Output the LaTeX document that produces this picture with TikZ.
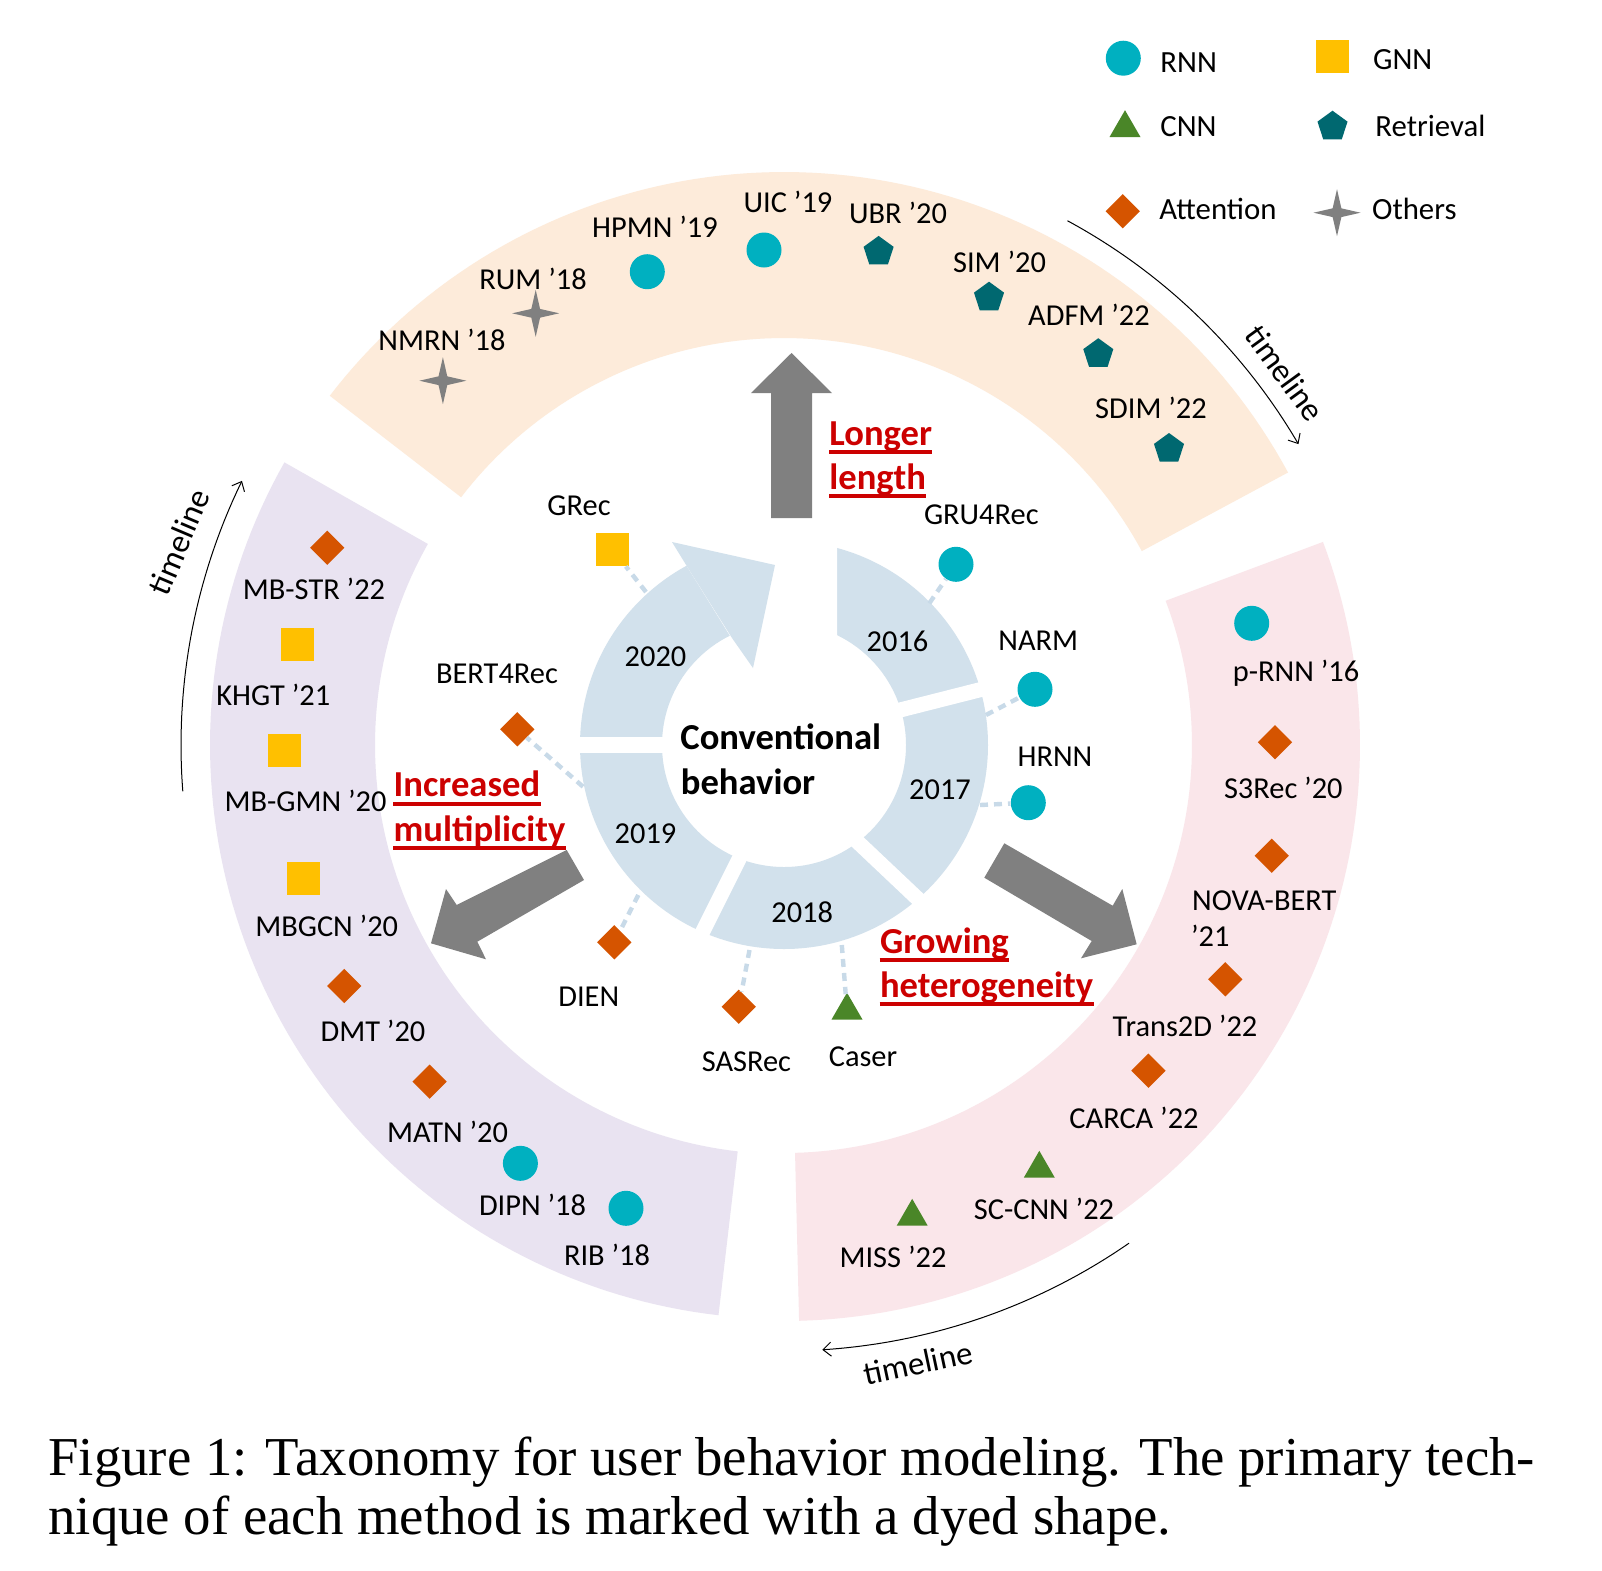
\documentclass[tikz,border=0pt]{standalone}
\usepackage{fontspec}
\setmainfont{Carlito}
\newfontfamily\capfont{Liberation Serif}
\usetikzlibrary{shapes.geometric,arrows.meta}
\definecolor{ringblue}{RGB}{210,225,236}
\definecolor{connblue}{RGB}{200,218,232}
\definecolor{bandorange}{RGB}{253,235,218}
\definecolor{bandpurple}{RGB}{233,227,241}
\definecolor{bandpink}{RGB}{250,230,234}
\definecolor{rnncol}{RGB}{0,176,192}
\definecolor{gnncol}{RGB}{255,192,0}
\definecolor{cnncol}{RGB}{74,134,40}
\definecolor{retcol}{RGB}{0,104,112}
\definecolor{attcol}{RGB}{213,84,0}
\definecolor{othcol}{RGB}{128,128,128}
\definecolor{arrowgray}{RGB}{128,128,128}
\definecolor{redtxt}{RGB}{204,0,0}
\tikzset{
 rnn/.style={circle, fill=rnncol, minimum size=17.5pt, inner sep=0pt},
 gnn/.style={rectangle, fill=gnncol, minimum size=16.5pt, inner sep=0pt},
 att/.style={diamond, fill=attcol, minimum width=17.3pt, minimum height=17.3pt, inner sep=0pt},
 cnnm/.style={regular polygon, regular polygon sides=3, fill=cnncol, minimum size=17.9pt, inner sep=0pt},
 ret/.style={regular polygon, regular polygon sides=5, fill=retcol, minimum size=15.8pt, inner sep=0pt},
 oth/.style={star, star points=4, star point ratio=3.8, fill=othcol, minimum size=23.5pt, inner sep=0pt},
 lbl/.style={font=\fontsize{15.2pt}{18pt}\selectfont, inner sep=0pt, anchor=base},
 lblw/.style={font=\fontsize{15.2pt}{18pt}\selectfont, inner sep=0pt, anchor=base west},
 lgd/.style={font=\fontsize{15.4pt}{18pt}\selectfont, inner sep=0pt, anchor=base west},
 redlbl/.style={font=\fontsize{18.3pt}{21pt}\selectfont\bfseries, text=redtxt, inner sep=0pt, anchor=base west},
 convlbl/.style={font=\fontsize{18.3pt}{21pt}\selectfont\bfseries, inner sep=0pt, anchor=base west},
 uline/.style={draw=redtxt, line width=2pt},
 conn/.style={draw=connblue, line width=2.2pt, dash pattern=on 4pt off 3pt},
 tlarc/.style={draw=black, line width=0.5pt, -{Straight Barb[length=4pt,width=7pt]}},
 tltext/.style={font=\fontsize{16.5pt}{18pt}\selectfont, inner sep=0pt},
 gap/.style={draw=white, line width=7.5pt},
 caption/.style={font=\capfont\fontsize{27.4pt}{33pt}\selectfont, inner sep=0pt, anchor=base west}
}
\begin{document}
\begin{tikzpicture}[x=0.5pt,y=-0.5pt]
\useasboundingbox (0,0) rectangle (1602,1570);
\fill[white] (0,0) rectangle (1602,1570);

% outer bands
\fill[bandorange] plot[domain=0:1,samples=90] ({784+573*cos(28.4+114.1*\x)},{745-573*sin(28.4+114.1*\x)})
  -- plot[domain=0:1,samples=90] ({784+407*cos(142.5-114.1*\x)},{745-407*sin(142.5-114.1*\x)}) -- cycle;
\fill[bandpurple] plot[domain=0:1,samples=90] ({784+574*cos(150.5+113*\x)},{745-574*sin(150.5+113*\x)})
  -- plot[domain=0:1,samples=90] ({784+409*cos(263.5-113*\x)},{745-409*sin(263.5-113*\x)}) -- cycle;
\fill[bandpink] plot[domain=0:1,samples=90] ({784+576*cos(-88.5+109.2*\x)},{745-576*sin(-88.5+109.2*\x)})
  -- plot[domain=0:1,samples=90] ({784+408*cos(20.7-109.2*\x)},{745-408*sin(20.7-109.2*\x)}) -- cycle;

% timeline arcs
\draw[tlarc] plot[domain=0:1,samples=60] ({784+596*cos(61.6-31.3*\x)},{745-596*sin(61.6-31.3*\x)});
\draw[tlarc] plot[domain=0:1,samples=60] ({784+603*cos(184.4-30.4*\x)},{745-603*sin(184.4-30.4*\x)});
\draw[tlarc] plot[domain=0:1,samples=60] ({784+606*cos(-55.3-31.1*\x)},{745-606*sin(-55.3-31.1*\x)});
\node[tltext, rotate=-54] (tlA) at (1285,373) {timeline};
\node[tltext, rotate=67] (tlB) at (179,542) {timeline};
\node[tltext, rotate=12] (tlC) at (918,1363) {timeline};

% year ring
\fill[ringblue, even odd rule] (784,745) circle[radius=204] (784,745) circle[radius=122];
\draw[white, line width=8pt] (570,745) -- (672,745);
\draw[gap] (885.5,713.7) -- (993.5,686.3);
\draw[gap] (850,834.7) -- (931,911.3);
\draw[gap] (743.7,849.6) -- (694.8,947.4);
\fill[white] (675,547) -- (745,660) -- (837,660) -- (837,525) -- (675,525) -- cycle;
\fill[ringblue] (672,542) -- (775,565) -- (753,668) -- (732,638) -- (688,568) -- cycle;

% gray arrows
\fill[arrowgray] (771,518) -- (771,393) -- (751,393) -- (791.5,353) -- (832,393) -- (812,393) -- (812,518) -- cycle;
\fill[arrowgray] (566.7,850) -- (456.7,905) -- (446,889) -- (431,943.3) -- (486,959.3) -- (477.3,941.7) -- (584,880) -- cycle;
\fill[arrowgray] (1004.3,843.3) -- (1112.7,905.7) -- (1122.3,889) -- (1136.7,944.3) -- (1081,958.3) -- (1091.7,941) -- (984.3,877.7) -- cycle;

% year labels and center
\node[lbl] (y2020) at (655.5,666.7) {2020};
\node[lbl] (y2016) at (897.5,651.7) {2016};
\node[lbl] (y2017) at (940,799.3) {2017};
\node[lbl] (y2019) at (645.5,843.3) {2019};
\node[lbl] (y2018) at (802.2,922.3) {2018};
\node[convlbl] (conv1) at (680,749.3) {Conventional};
\node[convlbl] (conv2) at (680.5,794) {behavior};

% ring connectors
\coordinate (cGRec) at (646,592);
\coordinate (cGRU) at (929.3,603.3);
\coordinate (cNARM) at (986,715);
\coordinate (cHRNN) at (980,805);
\coordinate (cSAS) at (749.5,950);
\coordinate (cCaser) at (841.8,945);
\coordinate (cDIEN) at (638.3,895);
\coordinate (cBERT) at (583,786.7);

\node[gnn] (mGRec) at (612.5,549.5) {};
\node[rnn] (mGRU) at (956,564.3) {};
\node[rnn] (mNARM) at (1035,689.3) {};
\node[rnn] (mHRNN) at (1028.3,802.7) {};
\node[att] (mSAS) at (738.8,1006.7) {};
\node[cnnm] (mCaser) at (847,1010.6) {};
\node[att] (mDIEN) at (614.3,942.3) {};
\node[att] (mBERT) at (517.3,729.3) {};
\draw[conn] (cGRec) -- (mGRec);
\draw[conn] (cGRU) -- (mGRU);
\draw[conn] (cNARM) -- (mNARM);
\draw[conn] (cHRNN) -- (mHRNN);
\draw[conn] (cSAS) -- (mSAS);
\draw[conn] (cCaser) -- (mCaser);
\draw[conn] (cDIEN) -- (mDIEN);
\draw[conn] (cBERT) -- (mBERT);

\node[lbl] (tGRec) at (579,515) {GRec};
\node[lbl] (tGRU) at (981.3,524) {GRU4Rec};
\node[lbl] (tNARM) at (1038.3,650) {NARM};
\node[lbl] (tHRNN) at (1055,766) {HRNN};
\node[lbl] (tSAS) at (746.4,1071.7) {SASRec};
\node[lbl] (tCaser) at (863,1066.7) {Caser};
\node[lbl] (tDIEN) at (588.8,1006.7) {DIEN};
\node[lbl] (tBERT) at (497,683.3) {BERT4Rec};

% red labels
\node[redlbl] (rL1) at (829,445) {Longer};
\node[redlbl] (rL2) at (829,489) {length};
\node[redlbl] (rI1) at (393.3,796.7) {Increased};
\node[redlbl] (rI2) at (393.3,841) {multiplicity};
\node[redlbl] (rG1) at (879.6,953) {Growing};
\node[redlbl] (rG2) at (879.6,997.5) {heterogeneity};
\foreach \n in {rL1,rL2,rI1,rI2,rG1,rG2}{
  \draw[uline] ([yshift=-3.4pt]\n.base west) -- ([yshift=-3.4pt]\n.base east);
}

% orange band items
\node[oth] (mNMRN) at (442.9,380.7) {};
\node[oth] (mRUM) at (535.7,313.3) {};
\node[rnn] (mHPMN) at (647.3,271.7) {};
\node[rnn] (mUIC) at (764,250) {};
\node[ret] (mUBR) at (878.6,251.7) {};
\node[ret] (mSIM) at (989,297.5) {};
\node[ret] (mADFM) at (1098.3,354) {};
\node[ret] (mSDIM) at (1169,448.8) {};
\node[lbl] (tNMRN) at (442,350) {NMRN ’18};
\node[lbl] (tRUM) at (533,289) {RUM ’18};
\node[lbl] (tHPMN) at (655,237) {HPMN ’19};
\node[lbl] (tUIC) at (788,212.5) {UIC ’19};
\node[lbl] (tUBR) at (898,223) {UBR ’20};
\node[lbl] (tSIM) at (999.5,272) {SIM ’20};
\node[lbl] (tADFM) at (1089,325) {ADFM ’22};
\node[lbl] (tSDIM) at (1151,418) {SDIM ’22};

% purple band items
\node[att] (mMBSTR) at (327.3,547.7) {};
\node[gnn] (mKHGT) at (297.5,644.5) {};
\node[gnn] (mMBGMN) at (284.2,750.3) {};
\node[gnn] (mMBGCN) at (303.3,878.3) {};
\node[att] (mDMT) at (344.3,986) {};
\node[att] (mMATN) at (429.6,1081.7) {};
\node[rnn] (mDIPN) at (520.4,1163.3) {};
\node[rnn] (mRIB) at (626,1208.3) {};
\node[lbl] (tMBSTR) at (314,599) {MB-STR ’22};
\node[lbl] (tKHGT) at (273.3,705) {KHGT ’21};
\node[lbl] (tMBGMN) at (305.5,811.7) {MB-GMN ’20};
\node[lbl] (tMBGCN) at (326.7,936.7) {MBGCN ’20};
\node[lbl] (tDMT) at (373,1041.5) {DMT ’20};
\node[lbl] (tMATN) at (447.5,1142.7) {MATN ’20};
\node[lbl] (tDIPN) at (532.5,1215.7) {DIPN ’18};
\node[lbl] (tRIB) at (607,1265.7) {RIB ’18};

% pink band items
\node[rnn] (mpRNN) at (1251.7,623.3) {};
\node[att] (mS3) at (1275,742.3) {};
\node[att] (mNOVA) at (1271.7,855.7) {};
\node[att] (mT2D) at (1225.3,979.3) {};
\node[att] (mCARCA) at (1148.4,1070.7) {};
\node[cnnm] (mSC) at (1039.3,1168.7) {};
\node[cnnm] (mMISS) at (912.2,1216.7) {};
\node[lbl] (tpRNN) at (1296,681.7) {p-RNN ’16};
\node[lbl] (tS3) at (1283.3,798.3) {S3Rec ’20};
\node[lblw] (tNOVA1) at (1191.7,910) {NOVA-BERT};
\node[lblw] (tNOVA2) at (1190.7,946.7) {’21};
\node[lbl] (tT2D) at (1185,1036.7) {Trans2D ’22};
\node[lbl] (tCARCA) at (1134,1128.3) {CARCA ’22};
\node[lbl] (tSC) at (1044,1219.3) {SC-CNN ’22};
\node[lbl] (tMISS) at (893,1267.7) {MISS ’22};

% legend
\node[rnn] (gRNN) at (1123.3,58.2) {};
\node[gnn] (gGNN) at (1332.5,56.3) {};
\node[cnnm] (gCNN) at (1125,128.1) {};
\node[ret] (gRet) at (1332.5,126.5) {};
\node[att] (gAtt) at (1122.8,211.2) {};
\node[oth] (gOth) at (1337,212.7) {};
\node[lgd] (lRNN) at (1160,72.3) {RNN};
\node[lgd] (lGNN) at (1372.7,69.3) {GNN};
\node[lgd] (lCNN) at (1160,136.7) {CNN};
\node[lgd] (lRet) at (1375,136) {Retrieval};
\node[lgd] (lAtt) at (1159,219) {Attention};
\node[lgd] (lOth) at (1371.7,219) {Others};

% caption
\node[caption] (cap1) at (48,1475) {\makebox[743.3pt][s]{Figure 1: Taxonomy for user behavior modeling. The primary tech-}};
\node[caption] (cap2) at (48,1534) {nique of each method is marked with a dyed shape.};
\end{tikzpicture}
\end{document}
